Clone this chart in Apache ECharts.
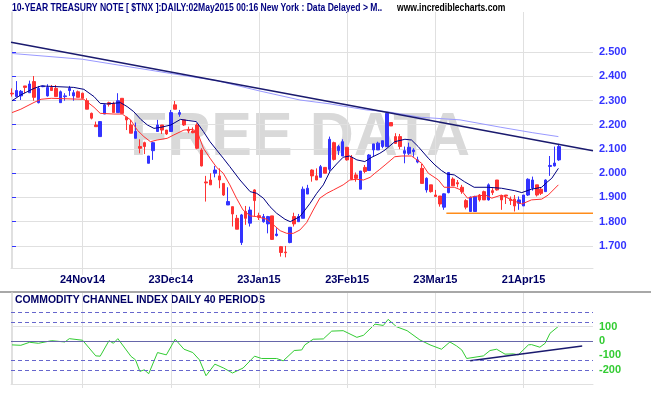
<!DOCTYPE html>
<html><head><meta charset="utf-8">
<script src="https://cdn.jsdelivr.net/npm/echarts@6/dist/echarts.min.js"></script>
<style>html,body{margin:0;padding:0;background:#fff}#c{width:651px;height:395px}</style>
</head><body><div id="c"></div>
<script>
// ---- data ----
const opens  = [2.330,2.316,2.319,2.360,2.332,2.378,2.291,2.357,2.319,2.354,2.350,2.291,2.316,2.341,2.319,2.336,2.330,2.299,2.247,2.199,
2.151,2.244,2.291,2.288,2.250,2.309,2.231,2.199,2.144,2.110,2.126,2.041,2.093,2.172,2.199,2.178,2.172,2.282,2.243,2.220,
2.181,2.174,2.199,2.096,1.964,1.972,2.000,1.989,1.958,1.869,1.862,1.814,1.714,1.842,1.794,1.931,1.825,1.800,1.791,1.824,
1.743,1.697,1.675,1.714,1.821,1.800,1.814,1.914,2.013,1.989,1.983,2.024,2.016,2.126,2.093,2.071,2.107,2.066,1.993,1.934,
2.024,2.011,2.096,2.096,2.110,2.110,2.209,2.151,2.151,2.082,2.082,2.089,2.046,2.020,1.931,1.952,1.910,1.906,1.860,1.920,
1.976,1.961,1.942,1.887,1.842,1.842,1.910,1.924,1.890,1.928,1.972,1.906,1.910,1.893,1.893,1.876,1.865,1.910,1.938,1.952,
1.934,1.924,2.028,2.030,2.055];
const highs  = [2.350,2.380,2.343,2.360,2.382,2.401,2.360,2.362,2.367,2.364,2.364,2.341,2.330,2.360,2.343,2.341,2.332,2.309,2.250,2.213,
2.213,2.286,2.295,2.295,2.330,2.309,2.233,2.220,2.209,2.140,2.130,2.071,2.130,2.220,2.199,2.178,2.261,2.298,2.261,2.220,
2.192,2.189,2.206,2.103,1.989,2.000,2.030,2.020,1.958,1.942,1.862,1.828,1.832,1.865,1.862,1.934,1.837,1.832,1.824,1.824,
1.773,1.700,1.700,1.777,1.837,1.832,1.945,1.952,2.016,2.020,2.034,2.024,2.151,2.130,2.117,2.140,2.107,2.075,2.003,2.009,
2.034,2.079,2.121,2.130,2.134,2.250,2.209,2.165,2.162,2.110,2.126,2.103,2.068,2.038,1.983,1.952,1.931,1.906,1.917,2.003,
1.983,1.972,1.952,1.893,1.904,1.907,1.914,1.928,1.958,1.938,1.972,1.910,1.910,1.904,1.910,1.904,1.910,1.979,1.986,1.952,
1.942,1.975,2.071,2.110,2.121];
const lows   = [2.316,2.316,2.302,2.330,2.332,2.299,2.288,2.355,2.316,2.341,2.316,2.291,2.299,2.319,2.299,2.313,2.309,2.264,2.222,2.192,
2.151,2.244,2.275,2.250,2.250,2.247,2.178,2.165,2.144,2.082,2.079,2.041,2.055,2.172,2.162,2.158,2.172,2.264,2.233,2.195,
2.165,2.165,2.099,2.028,1.883,1.952,1.983,1.938,1.906,1.869,1.780,1.769,1.704,1.787,1.780,1.821,1.807,1.796,1.752,1.725,
1.739,1.656,1.653,1.711,1.780,1.800,1.814,1.914,1.965,1.972,1.983,2.000,2.007,2.052,2.075,2.071,2.052,1.972,1.965,1.934,
2.000,2.011,2.071,2.096,2.103,2.110,2.195,2.121,2.099,2.041,2.075,2.068,2.041,1.958,1.920,1.920,1.904,1.862,1.849,1.917,
1.948,1.942,1.915,1.851,1.842,1.842,1.883,1.890,1.887,1.910,1.928,1.849,1.873,1.869,1.842,1.849,1.865,1.906,1.928,1.904,
1.910,1.924,1.989,2.028,2.051];
const closes = [2.327,2.341,2.338,2.354,2.368,2.313,2.350,2.360,2.354,2.341,2.316,2.336,2.319,2.350,2.332,2.313,2.309,2.264,2.227,2.192,
2.213,2.282,2.284,2.250,2.299,2.247,2.220,2.165,2.172,2.103,2.110,2.071,2.126,2.199,2.178,2.162,2.250,2.264,2.250,2.199,
2.174,2.167,2.103,2.030,1.960,1.952,2.013,1.972,1.910,1.883,1.832,1.769,1.828,1.814,1.848,1.887,1.818,1.821,1.821,1.727,
1.749,1.673,1.672,1.777,1.791,1.821,1.934,1.938,1.989,1.972,2.027,2.000,2.140,2.057,2.110,2.130,2.055,1.975,1.979,2.009,
2.007,2.075,2.121,2.124,2.134,2.247,2.195,2.123,2.110,2.093,2.107,2.096,2.055,1.958,1.979,1.924,1.904,1.873,1.915,2.003,
1.948,1.956,1.924,1.860,1.901,1.904,1.890,1.890,1.952,1.920,1.931,1.890,1.906,1.887,1.865,1.890,1.910,1.975,1.972,1.910,
1.917,1.972,2.032,2.042,2.110];

// moving averages as [bar index, value]
const upperMA = [[0,2.299],[2,2.323],[5,2.350],[6.6,2.360],[14,2.354],[16.3,2.346],[18.6,2.316],[20,2.288],[21.6,2.286],[24.6,2.291],
[26.1,2.275],[27.6,2.254],[29.2,2.222],[30.7,2.199],[32.2,2.185],[33.7,2.189],[36,2.199],[38.2,2.222],[40.1,2.217],[41.8,2.213],
[43.4,2.172],[44.9,2.130],[46.4,2.096],[47.9,2.062],[49.4,2.027],[51.7,1.972],[54,1.924],[55.5,1.917],[57,1.897],[58.5,1.862],
[60,1.835],[61.9,1.810],[63.1,1.800],[63.8,1.807],[65.3,1.821],[67.6,1.876],[69.1,1.917],[70.6,1.952],[72.1,2.007],[73.6,2.038],
[75.1,2.066],[76.6,2.071],[78.2,2.055],[80,2.048],[81.6,2.066],[83.4,2.082],[84.6,2.096],[86.8,2.130],[89.1,2.140],[90.6,2.137],
[92.1,2.110],[94.4,2.062],[95.9,2.034],[97.4,2.011],[98.6,1.997],[100.3,1.993],[102.6,1.965],[104.8,1.942],[108,1.942],[111,1.938],
[114,1.928],[115.6,1.920],[117.8,1.934],[120.1,1.942],[121.2,1.961],[122.4,1.979],[123.9,2.020]];
const lowerMA = [[0,2.250],[2,2.264],[5,2.292],[6.6,2.305],[8.9,2.309],[14,2.306],[16.3,2.305],[18.6,2.272],[20,2.247],[23.1,2.244],
[25,2.244],[26.9,2.220],[28.4,2.178],[29.9,2.151],[31.4,2.130],[32.9,2.137],[35.2,2.144],[36.7,2.158],[39,2.178],[40.9,2.181],
[42,2.172],[43.4,2.103],[44.9,2.062],[46.4,2.024],[47.9,2.000],[49.4,1.952],[50.9,1.897],[52.4,1.848],[54,1.824],[55.5,1.821],
[57.8,1.810],[59.3,1.787],[60.8,1.763],[62.3,1.752],[63.8,1.752],[65.3,1.766],[66.8,1.796],[68.3,1.848],[69.8,1.897],[71.4,1.917],
[72.9,1.931],[75.1,1.952],[76.6,1.972],[78.2,1.975],[79.7,1.972],[81.2,1.983],[82.3,2.000],[83.4,2.016],[84.6,2.034],[86.8,2.068],
[88.4,2.071],[90.6,2.071],[92.9,2.041],[94.4,2.000],[96.7,1.972],[98,1.942],[100.3,1.942],[101.8,1.931],[103.3,1.897],[104.8,1.904],
[107.3,1.910],[108.8,1.897],[111,1.910],[113.3,1.890],[115.6,1.873],[117.8,1.890],[120.1,1.893],[121.6,1.910],[123.9,1.952]];
const longMA = [[0,2.494],[16,2.470],[35.8,2.412],[46.4,2.382],[56.2,2.339],[65.3,2.302],[72.1,2.286],[80.4,2.261],[85,2.254],
[92.5,2.231],[101.6,2.220],[110.7,2.190],[118.1,2.167],[123.9,2.151]];
const trendLine = [[-0.227,2.540],[131.75,2.093]];
const supportLine = [[98.5,1.835],[131.75,1.835]];

const cciIdx = [0,2,4,6,9,12,13,16,19,20,22,23,24,27,28,29,30,31,33,35,37,39,41,42.5,44,46,48,50,52.4,55,56.6,60,61.5,64,65.7,66.4,68.3,70.6,72.5,75.1,
78.2,79.7,82.3,84.2,85.3,87.2,89.6,92.5,94.8,97.4,99.3,100.8,102,103.1,106.9,108.4,109.9,111.8,113.7,114.8,117.1,117.8,119.7,120.9,122,124];
const cciVal = [-27,-30,-9,-16,2,-7,16,5,-103,-105,2,-16,16,-107,-130,-210,-199,-226,-80,-96,12,-57,-80,-130,-240,-160,-187,-221,-187,-105,-121,-121,-137,-66,-62,-27,12,14,68,71,
25,39,116,107,149,98,71,7,-27,-57,-7,-34,-62,-121,-103,-66,-57,-91,-89,-96,-27,-25,-43,-16,53,103];
const cciTrend = [[103.9,-137],[129.3,-34]];
const cciDashLevels = [200,130,-130,-200];

const tickIdx = [16,36,56,76,96,116];
const tickLabels = ['24Nov14','23Dec14','23Jan15','23Feb15','23Mar15','21Apr15'];
const priceTicks = [1.7,1.8,1.9,2.0,2.1,2.2,2.3,2.4,2.5];
const cciTicks = [100,0,-100,-200];

// ---- chart ----
const X_MIN = -0.227, X_MAX = 131.75;
const GRID = '#e0e0e0';
const FONT = '"Liberation Sans", Arial, sans-serif';
const candles = opens.map((o,i)=>[i,o,closes[i],lows[i],highs[i]]);
const chart = echarts.init(document.getElementById('c'));
const lineS = (data,color,w,xi,yi)=>({type:'line',data,xAxisIndex:xi||0,yAxisIndex:yi||0,showSymbol:false,symbol:'none',
  lineStyle:{color,width:w},silent:true,animation:false});

chart.setOption({
  animation:false,
  backgroundColor:'#fff',
  grid:[{left:11,right:58,top:12,height:256},{left:11,right:58,top:293,height:91}],
  xAxis:[
    {gridIndex:0,type:'value',min:X_MIN,max:X_MAX,
     axisLine:{show:true,onZero:false,lineStyle:{color:GRID}},
     axisTick:{show:true,customValues:tickIdx,length:7,lineStyle:{color:GRID}},
     axisLabel:{customValues:tickIdx,formatter:v=>tickLabels[tickIdx.indexOf(v)]||'',color:'#000066',fontWeight:'bold',fontSize:11,fontFamily:FONT,margin:6},
     splitLine:{show:true,lineStyle:{color:GRID}}},
    {gridIndex:1,type:'value',min:X_MIN,max:X_MAX,
     axisLine:{show:true,onZero:false,lineStyle:{color:GRID}},
     axisTick:{show:true,customValues:tickIdx,length:4,lineStyle:{color:GRID}},
     axisLabel:{show:false,customValues:tickIdx},
     splitLine:{show:true,lineStyle:{color:GRID}}}
  ],
  yAxis:[
    {gridIndex:0,type:'value',position:'right',min:1.609,max:2.665,
     axisLine:{show:true,lineStyle:{color:GRID}},
     axisTick:{show:true,customValues:priceTicks,length:4,lineStyle:{color:'#3333ff'}},
     axisLabel:{customValues:priceTicks,formatter:v=>v.toFixed(3),color:'#3333ff',fontWeight:'bold',fontSize:11,fontFamily:FONT,margin:6},
     splitLine:{show:true,lineStyle:{color:GRID}}},
    {gridIndex:0,type:'value',position:'left',min:1.609,max:2.665,
     axisLine:{show:true,lineStyle:{color:GRID}},axisTick:{show:false},axisLabel:{show:false},splitLine:{show:false}},
    {gridIndex:1,type:'value',position:'right',min:-297,max:331,
     axisLine:{show:true,lineStyle:{color:GRID}},
     axisTick:{show:false,customValues:cciTicks},
     axisLabel:{customValues:cciTicks,color:'#33cc33',fontWeight:'bold',fontSize:11,fontFamily:FONT,margin:6},
     splitLine:{show:false}},
    {gridIndex:1,type:'value',position:'left',min:-297,max:331,
     axisLine:{show:true,lineStyle:{color:GRID}},axisTick:{show:false},axisLabel:{show:false},splitLine:{show:false}}
  ],
  graphic:[
    {type:'text',left:130,top:108,z:-5,silent:true,style:{text:'FREE DATA',font:'bold 61px "Liberation Sans", Arial, sans-serif',fill:'#d9d9d9'}},
    {type:'text',x:12,y:2,scaleX:0.78,style:{x:0,y:0,verticalAlign:'top',text:'10-YEAR TREASURY NOTE [ $TNX ]:DAILY:02May2015 00:16 New York : Data Delayed > M..',font:'bold 11px "Liberation Sans", Arial, sans-serif',fill:'#000080'}},
    {type:'text',x:397,y:2,scaleX:0.78,style:{x:0,y:0,verticalAlign:'top',text:'www.incrediblecharts.com',font:'bold 11px "Liberation Sans", Arial, sans-serif',fill:'#000000'}},
    {type:'line',shape:{x1:0,y1:292,x2:651,y2:292},style:{stroke:'#a8a8a8',lineWidth:2}},
    {type:'text',left:15,top:295,style:{text:'COMMODITY CHANNEL INDEX DAILY 40 PERIODS',font:'bold 10.4px "Liberation Sans", Arial, sans-serif',fill:'#000066'}}
  ],
  series:[
    lineS(longMA,'#9999ff',1),
    lineS(trendLine,'#1a1a6e',1.5),
    lineS(supportLine,'#ff8c1a',1.5),
    lineS(upperMA,'#000080',1),
    lineS(lowerMA,'#ff3030',1),
    {type:'candlestick',xAxisIndex:0,yAxisIndex:0,data:candles,encode:{x:0,y:[1,2,3,4]},barWidth:3,silent:true,
     itemStyle:{color:'#3333ff',color0:'#ff3333',borderColor:'#3333ff',borderColor0:'#ff3333',borderWidth:1}},
    Object.assign(lineS(cciIdx.map((x,i)=>[x,cciVal[i]]),'#33cc33',1,1,2),{
      markLine:{silent:true,symbol:'none',label:{show:false},animation:false,
        data:[
          ...cciDashLevels.map(v=>({yAxis:v,lineStyle:{color:'#6666cc',type:[4,3],width:1}})),
          {yAxis:100,lineStyle:{color:GRID,type:'solid',width:1}},
          {yAxis:0,lineStyle:{color:'#6666aa',type:'solid',width:1}}
        ]}}),
    lineS(cciTrend,'#1a1a6e',1.5,1,2)
  ]
});
</script></body></html>
